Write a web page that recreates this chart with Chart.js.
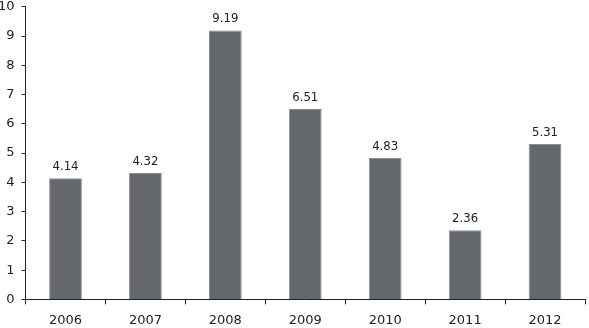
<!DOCTYPE html>
<html lang="en">
<head>
  <meta charset="UTF-8" />
  <title>Annual values 2006-2012</title>
  <script src="https://cdn.jsdelivr.net/npm/chart.js"></script>
  <style>
    html, body { margin: 0; padding: 0; background: #ffffff; overflow: hidden; }
    #wrap { width: 598px; height: 344px; margin-top: -8px; margin-left: -9px; }
  </style>
</head>
<body>
<div id="wrap"><canvas id="barChart"></canvas></div>
<script>
  const years = ["2006", "2007", "2008", "2009", "2010", "2011", "2012"];
  const values = [4.14, 4.32, 9.19, 6.51, 4.83, 2.36, 5.31];

  const fontFamily = "'DejaVu Sans', sans-serif";
  const tickFont = { family: fontFamily, style: 'condensed', size: 13 };

  // value labels above each bar
  const valueLabels = {
    id: 'valueLabels',
    afterDatasetsDraw(chart) {
      const ctx = chart.ctx;
      const meta = chart.getDatasetMeta(0);
      ctx.save();
      ctx.font = "condensed 13px " + fontFamily;
      ctx.fillStyle = "#222";
      ctx.textAlign = "center";
      ctx.textBaseline = "bottom";
      meta.data.forEach((bar, i) => {
        ctx.fillText(values[i].toFixed(2), bar.x, bar.y - 5);
      });
      ctx.restore();
    }
  };

  new Chart(document.getElementById('barChart'), {
    type: 'bar',
    data: {
      labels: years,
      datasets: [{
        data: values,
        backgroundColor: "#65686b",
        borderColor: "#8a8d90",
        borderWidth: { top: 1, left: 1, right: 1, bottom: 0 },
        categoryPercentage: 1,
        barPercentage: 0.41
      }]
    },
    options: {
      responsive: true,
      maintainAspectRatio: false,
      animation: false,
      layout: { padding: { top: 0, right: 4, left: 0, bottom: 0 } },
      plugins: { legend: { display: false }, tooltip: { enabled: false } },
      scales: {
        x: {
          grid: { display: true, offset: true, drawOnChartArea: false, tickLength: 5, color: "#222" },
          border: { display: true, color: "#222", width: 1 },
          ticks: { color: "#222", font: tickFont, padding: 8 }
        },
        y: {
          min: 0,
          max: 10,
          grid: { display: true, drawOnChartArea: false, tickLength: 4, color: "#222" },
          border: { display: true, color: "#222", width: 1 },
          ticks: { stepSize: 1, color: "#222", font: tickFont, padding: 7 }
        }
      }
    },
    plugins: [valueLabels]
  });
</script>
</body>
</html>
